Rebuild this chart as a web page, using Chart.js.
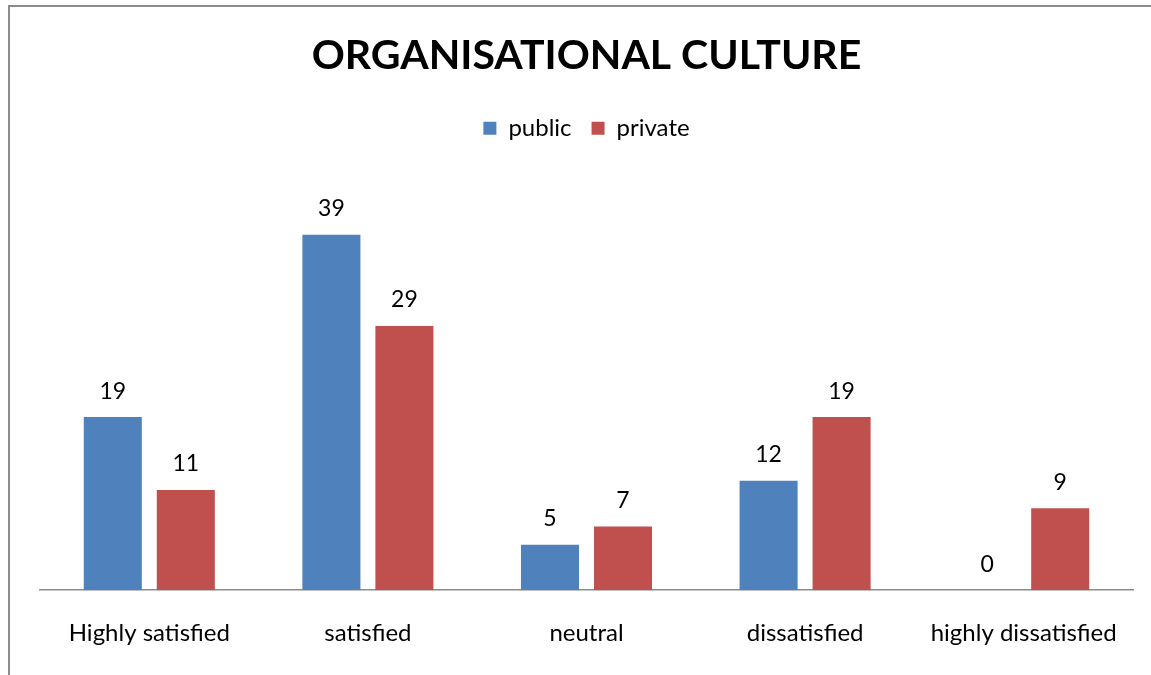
<!DOCTYPE html>
<html>
<head>
<meta charset="utf-8">
<script src="https://cdn.jsdelivr.net/npm/chart.js@4/dist/chart.umd.min.js"></script>
<style>
  html, body { margin: 0; padding: 0; background: #fff; }
  #wrap { position: relative; width: 1151px; height: 675px; }
</style>
</head>
<body>
<div id="wrap"><canvas id="myChart" width="1151" height="675"></canvas></div>
<script>
// categories and survey counts
const categories = ['Highly satisfied', 'satisfied', 'neutral', 'dissatisfied', 'highly dissatisfied'];
const publicValues = [19, 39, 5, 12, 0];
const privateValues = [11, 29, 7, 19, 9];
const seriesNames = ['public', 'private'];
const colors = ['#4F81BD', '#C0504D'];

const FONT = 'Lato, "Open Sans", sans-serif';

// frame along top and left edge
const frame = {
  id: 'frame',
  beforeDraw(chart) {
    const ctx = chart.ctx;
    ctx.save();
    ctx.strokeStyle = '#8c8c8c';
    ctx.lineWidth = 2;
    ctx.beginPath();
    ctx.moveTo(9, 675);
    ctx.lineTo(9, 6);
    ctx.lineTo(1151, 6);
    ctx.stroke();
    ctx.restore();
  }
};

// extra room between legend and plot
const legendMargin = {
  id: 'legendMargin',
  beforeInit(chart) {
    const fit = chart.legend.fit;
    chart.legend.fit = function () {
      fit.bind(chart.legend)();
      this.height += 30;
    };
  }
};

// value labels above each bar
const valueLabels = {
  id: 'valueLabels',
  afterDatasetsDraw(chart) {
    const ctx = chart.ctx;
    ctx.save();
    ctx.font = '23px ' + FONT;
    ctx.fillStyle = '#000';
    ctx.textAlign = 'center';
    ctx.textBaseline = 'middle';
    chart.data.datasets.forEach((ds, i) => {
      chart.getDatasetMeta(i).data.forEach((bar, j) => {
        ctx.fillText(String(ds.data[j]), bar.x, bar.y - 26);
      });
    });
    ctx.restore();
  }
};

let datasets = [];
[publicValues, privateValues].forEach((values, index) => {
  datasets.push({
    label: seriesNames[index],
    data: values,
    backgroundColor: colors[index],
    borderWidth: 0,
    categoryPercentage: 0.668,
    barPercentage: 0.795,
  });
});

const config = {
  type: 'bar',
  data: { labels: categories, datasets: datasets },
  options: {
    responsive: false,
    animation: false,
    layout: { padding: { left: 40, right: 18, top: 16, bottom: 6 } },
    plugins: {
      title: {
        display: true,
        text: 'ORGANISATIONAL CULTURE',
        color: '#000',
        font: { family: FONT, size: 41, weight: 'bold' },
        padding: { top: 15, bottom: 16 }
      },
      legend: {
        position: 'top',
        labels: {
          color: '#000',
          font: { family: FONT, size: 24 },
          boxWidth: 13,
          boxHeight: 13,
          padding: 20
        }
      },
      tooltip: { enabled: false }
    },
    scales: {
      x: {
        grid: { display: false },
        border: { display: true, color: '#8c8c8c', width: 1.5 },
        ticks: { color: '#000', font: { family: FONT, size: 24 }, padding: 21 }
      },
      y: {
        display: false,
        min: 0,
        max: 45
      }
    }
  },
  plugins: [frame, legendMargin, valueLabels]
};

const myChart = new Chart(document.getElementById('myChart'), config);
</script>
</body>
</html>
